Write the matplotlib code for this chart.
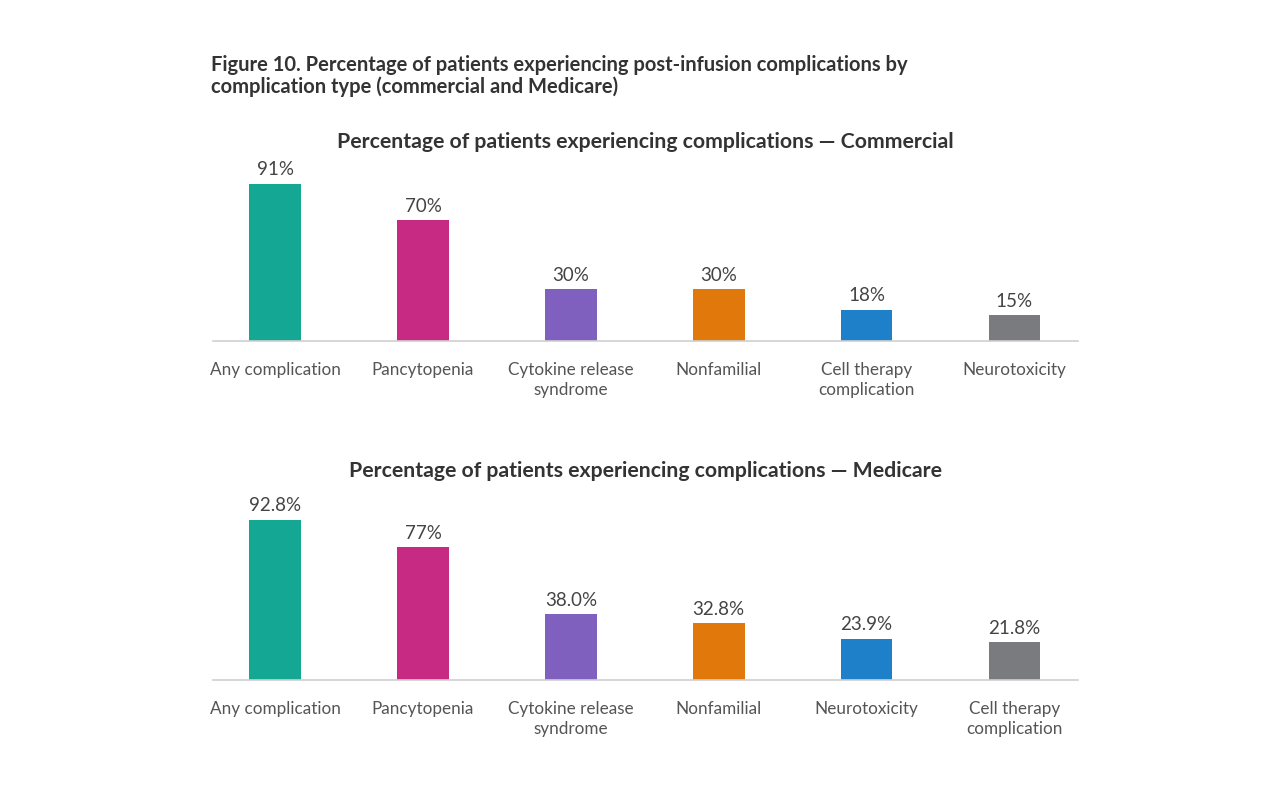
import matplotlib.pyplot as plt

# data
commercial_labels = ['Any complication', 'Pancytopenia', 'Cytokine release\nsyndrome',
                     'Nonfamilial', 'Cell therapy\ncomplication', 'Neurotoxicity']
commercial_values = [91, 70, 30, 30, 18, 15]
commercial_text = ['91%', '70%', '30%', '30%', '18%', '15%']
commercial_colors = ['#14a794', '#c62a82', '#8060bf', '#e0780c', '#1e80c8', '#7a7b7e']

medicare_labels = ['Any complication', 'Pancytopenia', 'Cytokine release\nsyndrome',
                   'Nonfamilial', 'Neurotoxicity', 'Cell therapy\ncomplication']
medicare_values = [92.8, 77, 38.0, 32.8, 23.9, 21.8]
medicare_text = ['92.8%', '77%', '38.0%', '32.8%', '23.9%', '21.8%']
medicare_colors = ['#14a794', '#c62a82', '#8060bf', '#e0780c', '#1e80c8', '#7a7b7e']

plt.rcParams['font.family'] = ['Lato', 'DejaVu Sans']


def draw_panel(fig, ax, labels, values, texts, colors, title, title_y):
    x = range(len(values))
    bars = ax.bar(x, values, width=0.35, color=colors)
    for b, t in zip(bars, texts):
        ax.annotate(t, (b.get_x() + b.get_width() / 2, b.get_height()),
                    xytext=(0, 4), textcoords='offset points',
                    ha='center', va='bottom', fontsize=13.5, color='#444444')
    ax.set_xlim(-0.42, len(values) - 0.57)
    ax.set_ylim(0, 100)
    ax.set_xticks(list(x))
    ax.set_xticklabels(labels, fontsize=12.3, color='#555555', linespacing=1.35)
    ax.tick_params(axis='x', length=0, pad=15)
    ax.set_yticks([])
    for s in ['top', 'right', 'left']:
        ax.spines[s].set_visible(False)
    ax.spines['bottom'].set_color('#d0d0d0')
    ax.spines['bottom'].set_linewidth(1.2)
    pos = ax.get_position()
    fig.text(pos.x0 + pos.width / 2, title_y, title, fontsize=15.3, fontweight='bold',
             color='#333333', ha='center', va='center')


fig = plt.figure(figsize=(12.8, 8), dpi=100)
ax1 = fig.add_axes([0.1664, 0.57375, 0.6758, 0.2156])
ax2 = fig.add_axes([0.1664, 0.15, 0.6758, 0.2156])

draw_panel(fig, ax1, commercial_labels, commercial_values, commercial_text, commercial_colors,
           'Percentage of patients experiencing complications \u2014 Commercial', 1 - 142 / 800)
draw_panel(fig, ax2, medicare_labels, medicare_values, medicare_text, medicare_colors,
           'Percentage of patients experiencing complications \u2014 Medicare', 1 - 471 / 800)

fig.text(0.165, 0.931, 'Figure 10. Percentage of patients experiencing post-infusion complications by\n'
         'complication type (commercial and Medicare)',
         fontsize=14.5, fontweight='bold', color='#333333', va='top', ha='left', linespacing=1.1)

fig.savefig('out.png', dpi=100, facecolor='white')
